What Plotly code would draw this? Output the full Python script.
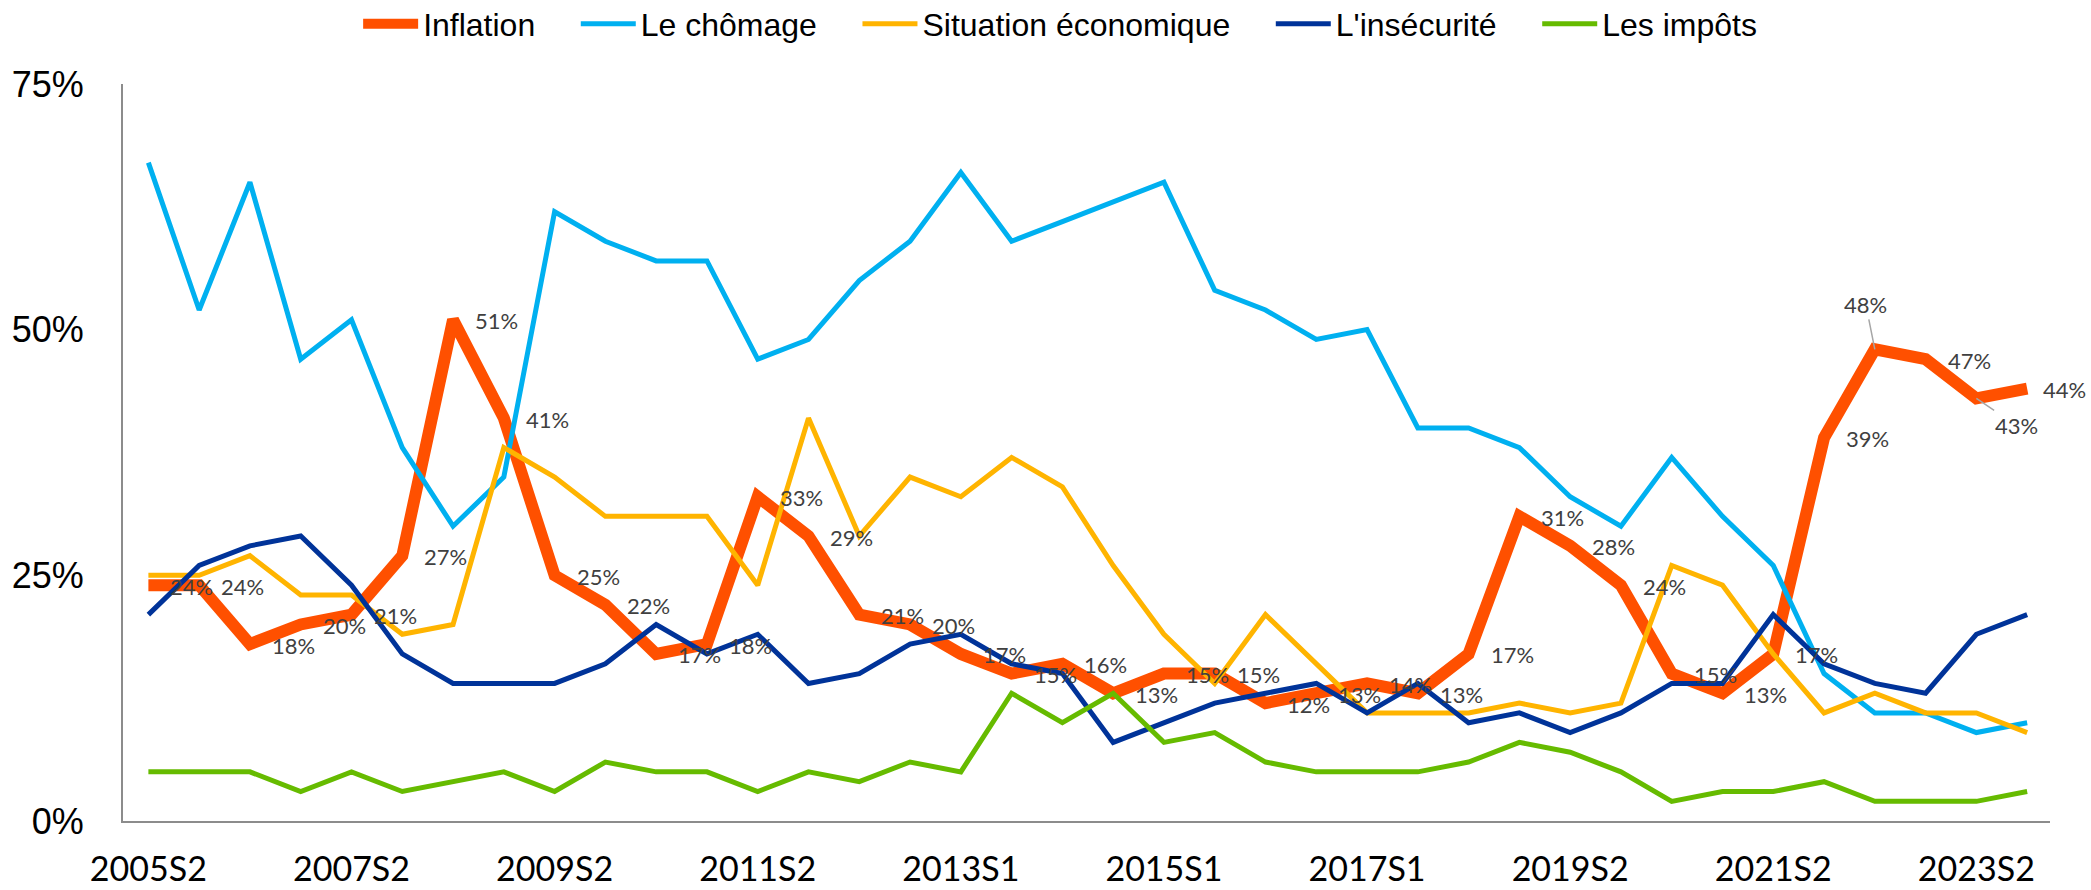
import plotly.graph_objects as go

periods = ["2005S2", "2006S1", "2006S2", "2007S1", "2007S2", "2008S1", "2008S2", "2009S1",
           "2009S2", "2010S1", "2010S2", "2011S1", "2011S2", "2012S1", "2012S1b", "2012S2",
           "2013S1", "2013S2", "2014S1", "2014S2", "2015S1", "2015S2", "2016S1", "2016S2",
           "2017S1", "2017S2", "2018S2", "2019S1", "2019S2", "2020S1", "2020S2", "2021S1",
           "2021S2", "2022S1", "2022S2", "2023S1", "2023S2", "2024S1"]

tick_labels = ["2005S2", "2007S2", "2009S2", "2011S2", "2013S1", "2015S1", "2017S1",
               "2019S2", "2021S2", "2023S2"]

inflation = [24, 24, 18, 20, 21, 27, 51, 41, 25, 22, 17, 18, 33, 29, 21, 20, 17, 15, 16, 13,
             15, 15, 12, 13, 14, 13, 17, 31, 28, 24, 15, 13, 17, 39, 48, 47, 43, 44]
chomage = [67, 52, 65, 47, 51, 38, 30, 35, 62, 59, 57, 57, 47, 49, 55, 59, 66, 59, 61, 63,
           65, 54, 52, 49, 50, 40, 40, 38, 33, 30, 37, 31, 26, 15, 11, 11, 9, 10]
situation = [25, 25, 27, 23, 23, 19, 20, 38, 35, 31, 31, 31, 24, 41, 29, 35, 33, 37, 34, 26,
             19, 14, 21, 16, 11, 11, 11, 12, 11, 12, 26, 24, 17, 11, 13, 11, 11, 9]
insecurite = [21, 26, 28, 29, 24, 17, 14, 14, 14, 16, 20, 17, 19, 14, 15, 18, 19, 16, 15, 8,
              10, 12, 13, 14, 11, 14, 10, 11, 9, 11, 14, 14, 21, 16, 14, 13, 19, 21]
impots = [5, 5, 5, 3, 5, 3, 4, 5, 3, 6, 5, 5, 3, 5, 4, 6, 5, 13, 10, 13,
          8, 9, 6, 5, 5, 5, 6, 8, 7, 5, 2, 3, 3, 4, 2, 2, 2, 3]

series_names = ["Inflation", "Le chômage", "Situation économique", "L'insécurité", "Les impôts"]
series_values = [inflation, chomage, situation, insecurite, impots]
series_colors = ["#FF5000", "#00B0F0", "#FFB400", "#003399", "#66BB00"]
series_widths = [12, 5, 5, 5, 5]

y_ticks = [0, 25, 50, 75]

PAD = "\u00a0" * 4  # spacing between legend entries

fig = go.Figure()
for k, (name, vals, col, w) in enumerate(zip(series_names, series_values, series_colors, series_widths)):
    fig.add_trace(go.Scatter(
        x=periods, y=vals, name=name + (PAD if k < len(series_names) - 1 else ""),
        mode="lines",
        line=dict(color=col, width=w, shape="linear"),
        hovertemplate="%{x}: %{y}%<extra>" + name + "</extra>",
    ))

# data labels for Inflation
leader = {34: (-9, -45), 36: (40, 27)}
last = len(inflation) - 1
annotations = []
for i, (p, v) in enumerate(zip(periods, inflation)):
    if i in leader:
        ax, ay = leader[i]
        annotations.append(dict(
            x=p, y=v, xref="x", yref="y", text=f"{v}%", showarrow=True,
            arrowhead=0, arrowwidth=1.5, arrowcolor="#A6A6A6", ax=ax, ay=ay,
            font=dict(family="Lato, sans-serif", size=22, color="#404040"),
        ))
    else:
        annotations.append(dict(
            x=p, y=v, xref="x", yref="y", text=f"{v}%", showarrow=False,
            xanchor="left", yanchor="middle", xshift=15 if i == last else 21, yshift=-1,
            borderpad=0,
            font=dict(family="Lato, sans-serif", size=22, color="#404040"),
        ))

fig.update_layout(
    width=2091, height=890,
    margin=dict(l=123, r=41, t=84, b=69, autoexpand=False),
    paper_bgcolor="white", plot_bgcolor="white",
    showlegend=True,
    legend=dict(orientation="h", x=0.507, xanchor="center", xref="container",
                y=0.973, yref="container", yanchor="middle",
                font=dict(family="Liberation Sans, Arial, sans-serif", size=32, color="#000000"),
                itemwidth=55, traceorder="normal"),
    annotations=annotations,
    hovermode="closest",
)

fig.update_xaxes(
    type="category", range=[-0.5, 37.45], automargin=False,
    tickmode="array", tickvals=tick_labels, ticktext=tick_labels,
    showgrid=False, zeroline=False,
    showline=True, linecolor="#8C8C8C", linewidth=2,
    ticks="", ticklabelstandoff=17,
    tickfont=dict(family="Lato, sans-serif", size=34, color="#000000"),
)
fig.update_yaxes(
    range=[0, 75], automargin=False, tickmode="array", tickvals=y_ticks,
    ticktext=[f"{t}%" for t in y_ticks],
    showgrid=False, zeroline=False,
    showline=True, linecolor="#8C8C8C", linewidth=2,
    ticks="", ticklabelstandoff=30,
    tickfont=dict(family="Liberation Sans, Arial, sans-serif", size=36, color="#000000"),
)

fig.write_html("out.html", config={"displayModeBar": False},
               post_script="document.body.style.margin='0';document.body.style.overflow='hidden';")
